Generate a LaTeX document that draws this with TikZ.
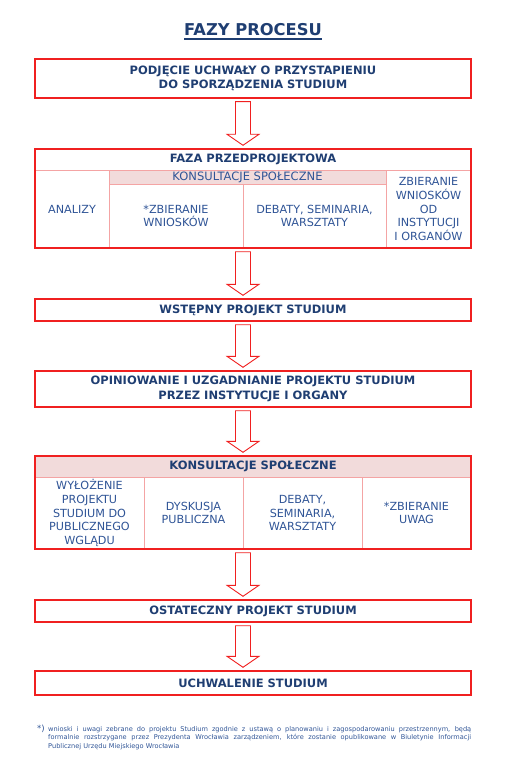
\documentclass[tikz,border=0pt]{standalone}
\usepackage{fontspec}
\setmainfont{DejaVu Sans}
\usepackage{xcolor}
\usepackage{tikz}
\usetikzlibrary{calc,positioning}
\definecolor{titleblue}{RGB}{31,62,114}
\definecolor{textblue}{RGB}{47,84,150}
\definecolor{boxred}{RGB}{240,32,32}
\definecolor{cellline}{RGB}{244,164,164}
\definecolor{headfill}{RGB}{242,219,219}

\begin{document}
\begin{tikzpicture}[x=1pt, y=1pt,
  phase/.style={draw=boxred, line width=1.4pt, minimum width=436pt,
    inner sep=0pt, align=center, text=titleblue,
    font=\bfseries\fontsize{11.5}{14.5}\selectfont},
  frame/.style={draw=boxred, line width=1.4pt, minimum width=436pt,
    inner sep=0pt},
  cell/.style={draw=cellline, line width=0.8pt, inner sep=0pt,
    align=center, text=textblue,
    font=\fontsize{11.2}{13.6}\selectfont},
  headcell/.style={cell, text=titleblue,
    font=\bfseries\fontsize{11.5}{14}\selectfont},
  hollow/.style={draw=boxred, line width=0.9pt, fill=white,
    line join=miter}]
% page, 505 x 778 px, one unit = one px, y runs downwards (negative)
\useasboundingbox (0,0) rectangle (505,-778);
% arrows all run down the x of the second column divider
\coordinate (ax) at (243,0);
% Title
\node[inner sep=0pt, text=titleblue,
  font=\bfseries\fontsize{16.3}{19}\selectfont] (title) at (253,-30)
  {FAZY PROCESU};
\draw[titleblue, line width=1.2pt]
  ([yshift=-3pt]title.base west) -- ([yshift=-3pt]title.base east);
% Phase 1
\node[phase, minimum height=39pt] (podjecie) at (253,-78.5)
  {PODJĘCIE UCHWAŁY O PRZYSTAPIENIU\\DO SPORZĄDZENIA STUDIUM};
% Phase 2: pre-project table, cells first, red frame on top
\node[headcell, minimum width=436pt, minimum height=21pt] (fazahead)
  at (253,-159.5) {FAZA PRZEDPROJEKTOWA};
\node[cell, minimum width=74pt, minimum height=78pt] (analizy)
  at (72,-209) {ANALIZY};
\node[cell, fill=headfill, minimum width=277pt, minimum height=14pt,
  font=\fontsize{11.5}{12}\selectfont] (konsultsub)
  at (247.5,-177) {KONSULTACJE SPOŁECZNE};
\node[cell, minimum width=134pt, minimum height=64pt] (wnioski)
  at (176,-216) {*ZBIERANIE\\WNIOSKÓW};
\node[cell, minimum width=143pt, minimum height=64pt] (debaty)
  at (314.5,-216) {DEBATY, SEMINARIA,\\WARSZTATY};
\node[cell, minimum width=85pt, minimum height=78pt] (organy)
  at (428.5,-209) {ZBIERANIE\\WNIOSKÓW\\OD\\INSTYTUCJI\\I ORGANÓW};
\node[frame, minimum height=99pt] (faza) at (253,-198.5) {};
% Phases 3 and 4
\node[phase, minimum height=22pt] (wstepny) at (253,-310)
  {WSTĘPNY PROJEKT STUDIUM};
\node[phase, minimum height=36pt] (opiniowanie) at (253,-389)
  {OPINIOWANIE I UZGADNIANIE PROJEKTU STUDIUM\\PRZEZ INSTYTUCJE I ORGANY};
% Phase 5: public consultation table
\node[headcell, fill=headfill, minimum width=436pt, minimum height=21pt]
  (konshead) at (253,-466.5) {KONSULTACJE SPOŁECZNE};
\node[cell, minimum width=109pt, minimum height=72pt] (wylozenie)
  at (89.5,-513) {WYŁOŻENIE\\PROJEKTU\\STUDIUM DO\\PUBLICZNEGO\\WGLĄDU};
\node[cell, minimum width=99pt, minimum height=72pt] (dyskusja)
  at (193.5,-513) {DYSKUSJA\\PUBLICZNA};
\node[cell, minimum width=119pt, minimum height=72pt] (warsztaty)
  at (302.5,-513) {DEBATY,\\SEMINARIA,\\WARSZTATY};
\node[cell, minimum width=109pt, minimum height=72pt] (uwagi)
  at (416.5,-513) {*ZBIERANIE\\UWAG};
\node[frame, minimum height=93pt] (konsult) at (253,-502.5) {};
% Phases 6 and 7
\node[phase, minimum height=22pt] (ostateczny) at (253,-611)
  {OSTATECZNY PROJEKT STUDIUM};
\node[phase, minimum height=24pt] (uchwalenie) at (253,-683)
  {UCHWALENIE STUDIUM};
% Hollow block arrows between phases
\foreach \a/\b in {podjecie/faza, faza/wstepny, wstepny/opiniowanie,
  opiniowanie/konsult, konsult/ostateczny, ostateczny/uchwalenie} {
  \coordinate (tip) at ($(\b.north -| ax)+(0,3)$);
  \draw[hollow] ($(\a.south -| ax)+(-7.5,-3)$) -- ($(tip)+(-7.5,11)$)
    -- ($(tip)+(-16,11)$) -- (tip) -- ($(tip)+(16,11)$)
    -- ($(tip)+(7.5,11)$) -- ($(\a.south -| ax)+(7.5,-3)$) -- cycle;
}
% Footnote
\node[inner sep=0pt, text=textblue, font=\fontsize{8.5}{9}\selectfont]
  (fnmark) at (41,-729) {*)};
\node[inner sep=0pt, anchor=north west, text width=423pt, align=justify,
  text=textblue, font=\fontsize{6.6}{8.6}\selectfont] (footnote)
  at (48,-726)
  {wnioski i uwagi zebrane do projektu Studium zgodnie z ustawą o
  planowaniu i zagospodarowaniu przestrzennym, będą\linebreak formalnie
  rozstrzygane przez Prezydenta Wrocławia zarządzeniem, które zostanie
  opublikowane w Biuletynie Informacji\linebreak Publicznej Urzędu
  Miejskiego Wrocławia};
\end{tikzpicture}
\end{document}
